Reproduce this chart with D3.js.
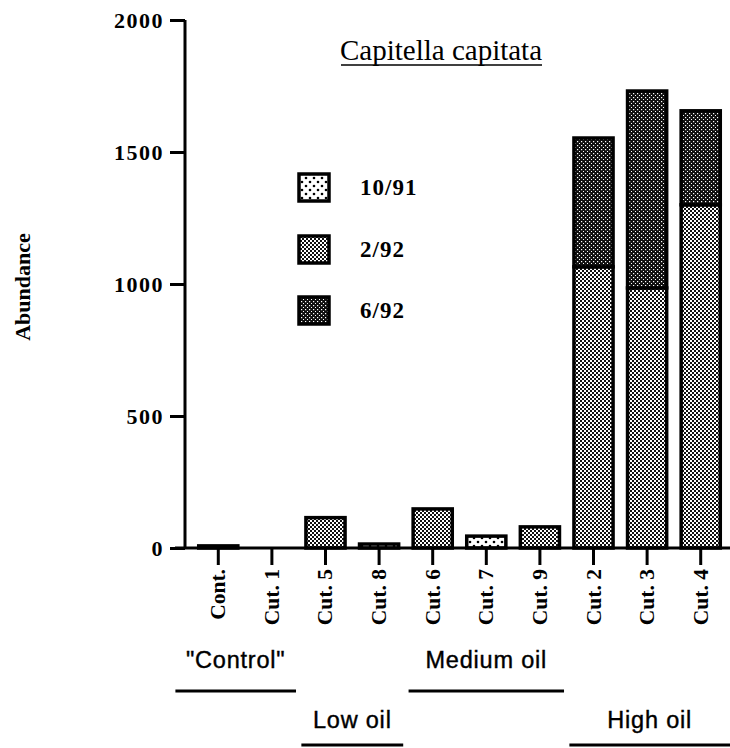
<!DOCTYPE html>
<html><head><meta charset="utf-8">
<script src="https://cdn.jsdelivr.net/npm/d3@7"></script>
<style>body{margin:0;background:#fff}svg{display:block}</style>
</head><body>
<script>
const categories = ["Cont.", "Cut. 1", "Cut. 5", "Cut. 8", "Cut. 6", "Cut. 7", "Cut. 9", "Cut. 2", "Cut. 3", "Cut. 4"];
const seriesNames = ["10/91", "2/92", "6/92"];
const s1091 = [8, 0, 0, 15, 0, 45, 0, 0, 0, 0];
const s292  = [0, 0, 115, 0, 148, 0, 80, 1065, 985, 1300];
const s692  = [0, 0, 0, 0, 0, 0, 0, 488, 746, 356];
const yTicks = [0, 500, 1000, 1500, 2000];
const groups = [
  {label: "\"Control\"", from: "Cont.", to: "Cut. 1", row: 0},
  {label: "Low oil", from: "Cut. 5", to: "Cut. 8", row: 1},
  {label: "Medium oil", from: "Cut. 6", to: "Cut. 9", row: 0},
  {label: "High oil", from: "Cut. 2", to: "Cut. 4", row: 1}
];

const W = 730, H = 748;
const svg = d3.select("body").append("svg").attr("width", W).attr("height", H);
const defs = svg.append("defs");

// patterns
const p1 = defs.append("pattern").attr("id","pat0").attr("patternUnits","userSpaceOnUse").attr("width",8).attr("height",8);
p1.append("rect").attr("width",8).attr("height",8).attr("fill","#fff");
p1.append("circle").attr("cx",2).attr("cy",2).attr("r",1.3).attr("fill","#000");
p1.append("circle").attr("cx",6).attr("cy",6).attr("r",1.3).attr("fill","#000");
const p2 = defs.append("pattern").attr("id","pat1").attr("patternUnits","userSpaceOnUse").attr("width",4).attr("height",4);
p2.append("rect").attr("width",4).attr("height",4).attr("fill","#fff");
p2.append("rect").attr("x",0).attr("y",0).attr("width",2).attr("height",2).attr("fill","#111");
p2.append("rect").attr("x",2).attr("y",2).attr("width",2).attr("height",2).attr("fill","#111");
const p3 = defs.append("pattern").attr("id","pat2").attr("patternUnits","userSpaceOnUse").attr("width",4).attr("height",4);
p3.append("rect").attr("width",4).attr("height",4).attr("fill","#111");
p3.append("rect").attr("x",1).attr("y",1).attr("width",1.2).attr("height",1.2).attr("fill","#fff");
p3.append("rect").attr("x",3).attr("y",3).attr("width",1.2).attr("height",1.2).attr("fill","#fff");

const y = d3.scaleLinear().domain([0, 2000]).range([548, 20]);
const x = d3.scaleBand().domain(categories).range([188, 731]).paddingInner(0.27).paddingOuter(0.2);

const serif = "'Liberation Serif', 'Times New Roman', serif";
const sans = "'Liberation Sans', Arial, sans-serif";

// stacked data
const rows = categories.map((c, i) => ({cat: c, "10/91": s1091[i], "2/92": s292[i], "6/92": s692[i]}));
const stack = d3.stack().keys(seriesNames)(rows);

const barG = svg.append("g");
stack.forEach((layer, li) => {
  barG.selectAll(null).data(layer.filter(d => d[1] - d[0] > 0)).enter().append("rect")
    .attr("x", d => x(d.data.cat))
    .attr("width", x.bandwidth())
    .attr("y", d => y(d[1]))
    .attr("height", d => Math.max(0.5, y(d[0]) - y(d[1])))
    .attr("fill", `url(#pat${li})`)
    .attr("stroke", "#000").attr("stroke-width", 3.5);
});

// y axis
const yAxis = svg.append("g").attr("transform", "translate(185,0)")
  .call(d3.axisLeft(y).tickValues(yTicks).tickSize(15).tickPadding(6).tickFormat(d3.format("d")));
yAxis.select(".domain").attr("stroke", "#000").attr("stroke-width", 3).attr("d", `M0,${y(2000)}V${y(0)}`);
yAxis.selectAll(".tick line").attr("stroke", "#000").attr("stroke-width", 3);
yAxis.selectAll(".tick text").attr("font-family", serif).attr("font-size", 22).attr("font-weight", "bold")
  .attr("letter-spacing", 1.5).attr("fill", "#000");

// x axis
const xAxis = svg.append("g").attr("transform", `translate(0,${y(0)})`)
  .call(d3.axisBottom(x).tickSize(17).tickPadding(0));
xAxis.select(".domain").attr("stroke", "#000").attr("stroke-width", 3).attr("d", "M175,0H730");
xAxis.selectAll(".tick line").attr("stroke", "#000").attr("stroke-width", 3);
xAxis.selectAll(".tick text")
  .attr("font-family", serif).attr("font-size", 21.5).attr("font-weight", "bold").attr("fill", "#000")
  .attr("text-anchor", "end").attr("dy", null)
  .attr("transform", "translate(7,21) rotate(-90)")
  .attr("x", 0).attr("y", 0);

// y label
svg.append("text").attr("transform", "translate(30,287) rotate(-90)")
  .attr("text-anchor", "middle").attr("font-family", serif).attr("font-size", 22).attr("font-weight", "bold")
  .text("Abundance");

// title
svg.append("text").attr("x", 441).attr("y", 60).attr("text-anchor", "middle")
  .attr("font-family", serif).attr("font-size", 29).text("Capitella capitata");
svg.append("line").attr("x1", 341).attr("x2", 542).attr("y1", 65).attr("y2", 65)
  .attr("stroke", "#000").attr("stroke-width", 1.5);

// legend
const legY = [187, 249, 310];
seriesNames.forEach((s, i) => {
  svg.append("rect").attr("x", 299).attr("y", legY[i] - 13).attr("width", 30).attr("height", 27)
    .attr("fill", `url(#pat${i})`).attr("stroke", "#000").attr("stroke-width", 3.5);
  svg.append("text").attr("x", 360).attr("y", legY[i] + 8).attr("font-family", serif)
    .attr("font-size", 23).attr("font-weight", "bold").attr("letter-spacing", 1).text(s);
});

// group labels
groups.forEach((g, gi) => {
  const x0 = x(g.from) + x.bandwidth() / 2 - x.step() * (gi === 0 ? 0.8 : 0.45);
  const x1 = gi === groups.length - 1 ? W : x(g.to) + x.bandwidth() / 2 + x.step() * 0.45;
  const ty = g.row === 0 ? 668 : 728;
  const ly = g.row === 0 ? 691 : 745;
  svg.append("text").attr("x", (x0 + x1) / 2).attr("y", ty).attr("text-anchor", "middle")
    .attr("font-family", sans).attr("font-size", 23.5).attr("letter-spacing", 0.8)
    .attr("stroke", "#000").attr("stroke-width", 0.4).text(g.label);
  svg.append("line").attr("x1", x0).attr("x2", x1).attr("y1", ly).attr("y2", ly)
    .attr("stroke", "#000").attr("stroke-width", 3);
});
</script>
</body></html>
